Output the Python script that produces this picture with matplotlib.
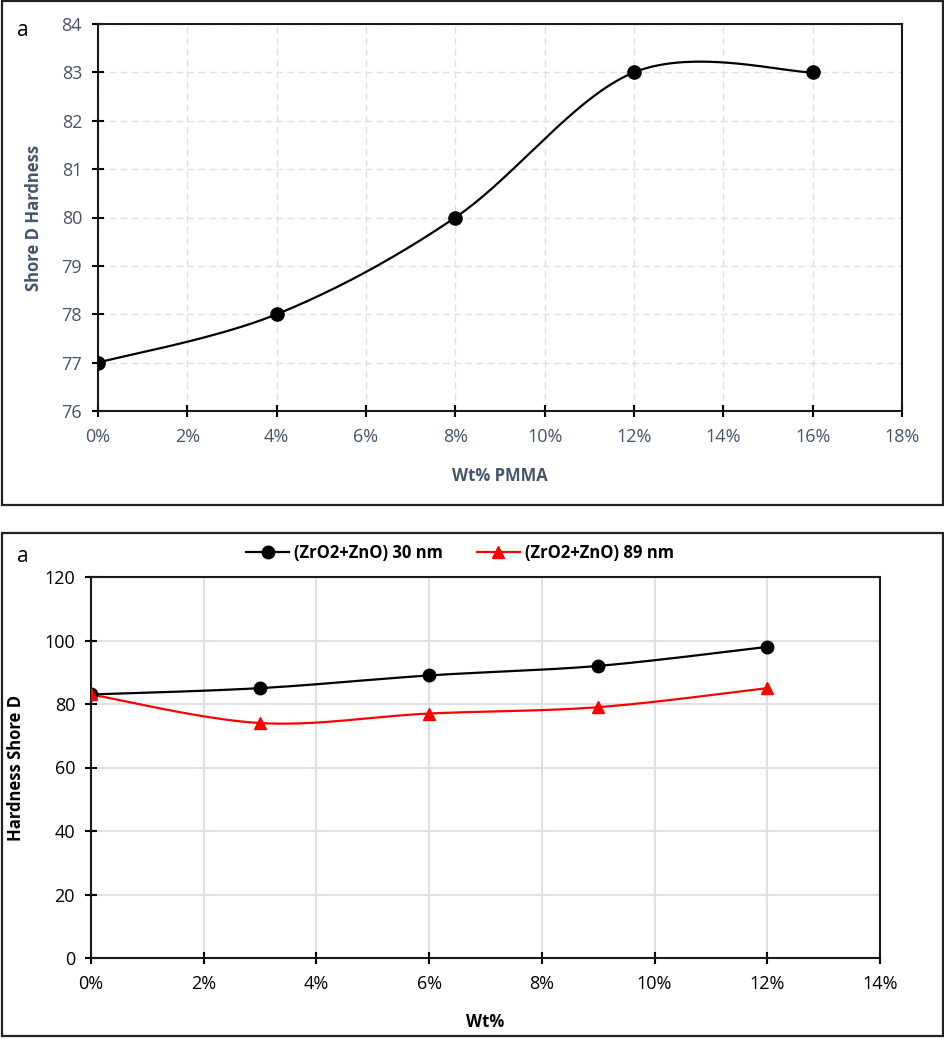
import numpy as np
import matplotlib
matplotlib.use("Agg")
import matplotlib.pyplot as plt
from matplotlib.ticker import FuncFormatter, MultipleLocator
from matplotlib.patches import Rectangle
from matplotlib.lines import Line2D

plt.rcParams['font.family'] = ['Open Sans', 'DejaVu Sans']

# ---------------- data ----------------
pmma_wt = [0.00, 0.04, 0.08, 0.12, 0.16]
pmma_hardness = [77, 78, 80, 83, 83]

nano_wt = [0.00, 0.03, 0.06, 0.09, 0.12]
hard_30nm = [83, 85, 89, 92, 98]
hard_89nm = [83, 74, 77, 79, 85]

label_30 = "(ZrO2+ZnO) 30 nm"
label_89 = "(ZrO2+ZnO) 89 nm"


def excel_smooth(xs, ys, n=40):
    """Catmull-Rom style Bezier smoothing like Excel's smoothed line."""
    xs = np.asarray(xs, float)
    ys = np.asarray(ys, float)
    P = np.column_stack([xs, ys])
    pts = []
    for i in range(len(P) - 1):
        p0 = P[i - 1] if i > 0 else P[i]
        p1 = P[i]
        p2 = P[i + 1]
        p3 = P[i + 2] if i + 2 < len(P) else P[i + 1]
        c1 = p1 + (p2 - p0) / 6.0
        c2 = p2 - (p3 - p1) / 6.0
        t = np.linspace(0, 1, n)[:, None]
        seg = ((1 - t) ** 3) * p1 + 3 * ((1 - t) ** 2) * t * c1 + 3 * (1 - t) * t ** 2 * c2 + t ** 3 * p2
        pts.append(seg if i == 0 else seg[1:])
    pts = np.vstack(pts)
    return pts[:, 0], pts[:, 1]


W, H = 945, 1039
fig = plt.figure(figsize=(W / 100, H / 100), dpi=100)


def fx(px):
    return px / W


def fy(py):
    return 1 - py / H


# panel borders
for (x0, y0, x1, y1) in [(2, 1, 943, 505), (2, 533, 943, 1036)]:
    fig.patches.append(Rectangle((fx(x0), fy(y1)), fx(x1) - fx(x0), fy(y0) - fy(y1),
                                 transform=fig.transFigure, fill=False,
                                 edgecolor='#222222', linewidth=1.6))

pct = FuncFormatter(lambda v, p: f"{v*100:.0f}%")
slate = '#44546A'

# ---------------- top axes ----------------
ax1 = fig.add_axes([fx(98), fy(411), fx(902) - fx(98), fy(24) - fy(411)])
sx, sy = excel_smooth(pmma_wt, pmma_hardness)
ax1.plot(sx, sy, color='black', lw=1.6, zorder=3)
ax1.plot(pmma_wt, pmma_hardness, 'o', color='black', ms=9.5, zorder=4, linestyle='none')
ax1.set_xlim(0, 0.18)
ax1.set_ylim(76, 84)
ax1.xaxis.set_major_locator(MultipleLocator(0.02))
ax1.yaxis.set_major_locator(MultipleLocator(1))
ax1.xaxis.set_major_formatter(pct)
ax1.grid(True, color='#E0E0E0', linestyle=(0, (5, 3)), linewidth=1.0)
ax1.set_axisbelow(True)
for s in ax1.spines.values():
    s.set_linewidth(1.5)
    s.set_color('#1a1a1a')
ax1.tick_params(direction='inout', length=9, width=1.5, labelsize=13, labelcolor=slate, pad=7)
ax1.tick_params(axis='x', top=False, bottom=True, pad=8)
ax1.tick_params(axis='y', right=False, left=True)
ax1.set_ylabel("Shore D Hardness", fontsize=12, fontweight='bold', color=slate)
ax1.set_xlabel("Wt% PMMA", fontsize=12, fontweight='bold', color=slate)
ax1.yaxis.set_label_coords((43 - 98) / 804, 0.5)
ax1.xaxis.set_label_coords(0.5, (411 - 467) / 387)
fig.text(fx(23), fy(30), "a", fontsize=15, ha='center', va='center', color='black')

# ---------------- bottom axes ----------------
ax2 = fig.add_axes([fx(91), fy(958), fx(880) - fx(91), fy(577) - fy(958)])
bx, by = excel_smooth(nano_wt, hard_30nm)
rx, ry = excel_smooth(nano_wt, hard_89nm)
ax2.plot(bx, by, color='black', lw=1.6, zorder=3)
ax2.plot(nano_wt, hard_30nm, 'o', color='black', ms=9, zorder=4, linestyle='none')
ax2.plot(rx, ry, color='#FF0000', lw=1.6, zorder=3)
ax2.plot(nano_wt, hard_89nm, '^', color='#FF0000', ms=9, zorder=5, linestyle='none')
ax2.set_xlim(0, 0.14)
ax2.set_ylim(0, 120)
ax2.xaxis.set_major_locator(MultipleLocator(0.02))
ax2.yaxis.set_major_locator(MultipleLocator(20))
ax2.xaxis.set_major_formatter(pct)
ax2.grid(True, color='#DDE1E7', linestyle='-', linewidth=1.5)
ax2.set_axisbelow(True)
for s in ax2.spines.values():
    s.set_linewidth(1.5)
    s.set_color('#1a1a1a')
ax2.tick_params(direction='inout', length=9, width=1.5, labelsize=13, labelcolor='black', pad=7)
ax2.tick_params(axis='x', top=False, bottom=True, pad=8)
ax2.tick_params(axis='y', right=False, left=True)
ax2.set_ylabel("Hardness Shore D", fontsize=12, fontweight='bold', color='black')
ax2.set_xlabel("Wt%", fontsize=12, fontweight='bold', color='black')
ax2.yaxis.set_label_coords((25 - 91) / 789, 0.5)
ax2.xaxis.set_label_coords(0.5, (958 - 1013) / 381)
fig.text(fx(23), fy(557), "a", fontsize=15, ha='center', va='center', color='black')

handles = [Line2D([], [], color='black', lw=1.6, marker='o', ms=9),
           Line2D([], [], color='#FF0000', lw=1.6, marker='^', ms=9)]
fig.legend(handles, [label_30, label_89], loc='center', ncol=2,
           bbox_to_anchor=(fx(460), fy(553)), frameon=False,
           prop={'size': 12, 'weight': 'bold'}, handlelength=2.6,
           handletextpad=0.3, columnspacing=2.0)

fig.savefig("out.png", dpi=100)
